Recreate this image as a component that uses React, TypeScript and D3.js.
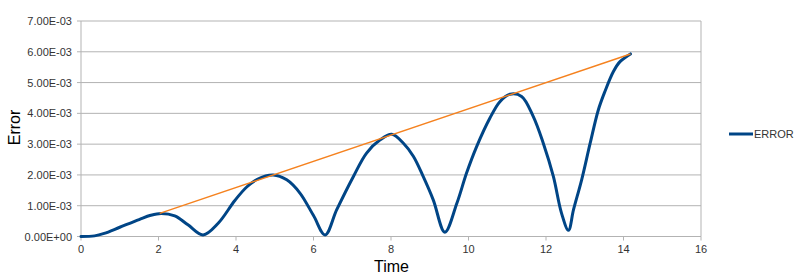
import React from "react";
import * as d3 from "d3";

const timeValues = [0, 0.35, 0.6, 1.0, 1.5, 1.8, 2.07, 2.42, 2.76, 3.15, 3.54, 3.97, 4.27, 4.55, 4.96, 5.31, 5.65, 6.0, 6.3, 6.6, 7.03, 7.37, 7.72, 8.02, 8.32, 8.58, 8.83, 9.09, 9.39, 9.7, 9.95, 10.21, 10.55, 10.81, 11.07, 11.37, 11.67, 11.93, 12.19, 12.4, 12.58, 12.71, 12.92, 13.14, 13.35, 13.52, 13.74, 13.91, 14.18];
const errorValues = [0, 0.02, 0.1, 0.3, 0.55, 0.69, 0.75, 0.67, 0.38, 0.05, 0.43, 1.17, 1.6, 1.86, 2.0, 1.84, 1.41, 0.68, 0.05, 0.87, 1.95, 2.71, 3.14, 3.32, 3.03, 2.6, 1.95, 1.19, 0.14, 1.08, 2.06, 2.92, 3.84, 4.38, 4.62, 4.55, 3.9, 3.03, 1.95, 0.76, 0.2, 0.87, 1.84, 3.03, 4.11, 4.71, 5.36, 5.68, 5.93].map((v) => v * 1e-3);
const envelopeTime = [2.03, 14.18];
const envelopeValues = [0.75e-3, 5.93e-3];
const xTicks = [0, 2, 4, 6, 8, 10, 12, 14, 16];
const yTicks = [0, 1e-3, 2e-3, 3e-3, 4e-3, 5e-3, 6e-3, 7e-3];
const yTickLabels = ["0.00E+00", "1.00E-03", "2.00E-03", "3.00E-03", "4.00E-03", "5.00E-03", "6.00E-03", "7.00E-03"];
const seriesName = "ERROR";

export default function App() {
  const W = 800, H = 276;
  const x = d3.scaleLinear().domain([0, 16]).range([81, 701]);
  const y = d3.scaleLinear().domain([0, 7e-3]).range([236.5, 21]);
  const font = "'Liberation Sans', Arial, sans-serif";
  const pts: [number, number][] = timeValues.map((t, i) => [t, errorValues[i]]);
  const line = d3.line<[number, number]>().x((d) => x(d[0])).y((d) => y(d[1])).curve(d3.curveCatmullRom.alpha(0.5));
  const env: [number, number][] = envelopeTime.map((t, i) => [t, envelopeValues[i]]);
  const envLine = d3.line<[number, number]>().x((d) => x(d[0])).y((d) => y(d[1]));
  const grid = "#b3b3b3";
  return (
    <svg width={W} height={H} style={{ position: "absolute", left: 0, top: 0, background: "#fff" }} fontFamily={font}>
      <rect x={0} y={0} width={W} height={H} fill="#fff" />
      {yTicks.map((v, i) => (
        <g key={"y" + i}>
          <line x1={77} x2={701} y1={y(v)} y2={y(v)} stroke={grid} strokeWidth={1} />
          <text x={72} y={y(v) + 4} textAnchor="end" fontSize={11} fill="#333">{yTickLabels[i]}</text>
        </g>
      ))}
      <line x1={x(0)} x2={x(0)} y1={y(7e-3)} y2={y(0)} stroke={grid} />
      <line x1={x(16)} x2={x(16)} y1={y(7e-3)} y2={y(0)} stroke={grid} />
      {xTicks.map((t, i) => (
        <g key={"x" + i}>
          <line x1={x(t)} x2={x(t)} y1={y(0)} y2={y(0) + 4} stroke={grid} />
          <text x={x(t)} y={253} textAnchor="middle" fontSize={11} fill="#333">{t}</text>
        </g>
      ))}
      <path d={line(pts) || ""} fill="none" stroke="#004586" strokeWidth={3} strokeLinejoin="round" strokeLinecap="round" />
      <path d={envLine(env) || ""} fill="none" stroke="#f5821f" strokeWidth={1.5} />
      <text x={391.5} y={271.5} textAnchor="middle" fontSize={16} fill="#000">Time</text>
      <text transform="translate(20,127.5) rotate(-90)" textAnchor="middle" fontSize={16} fill="#000">Error</text>
      <line x1={729} x2={753} y1={134} y2={134} stroke="#004586" strokeWidth={3} />
      <text x={754} y={138} fontSize={11} fill="#333">{seriesName}</text>
    </svg>
  );
}
